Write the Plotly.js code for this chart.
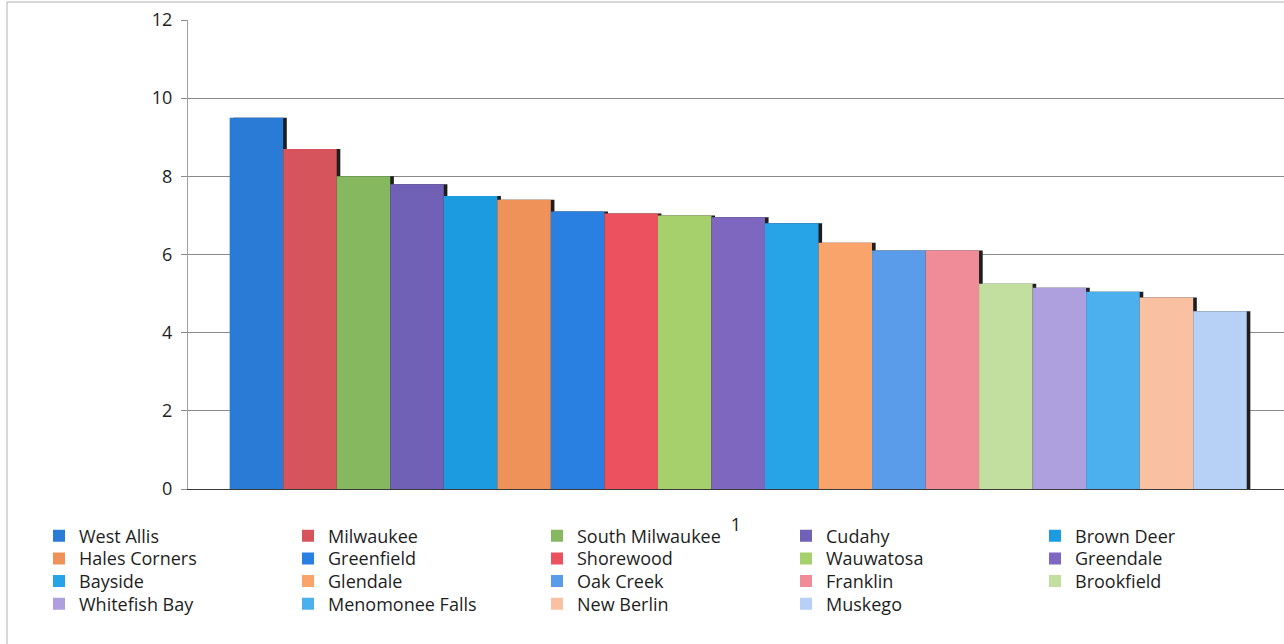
<!DOCTYPE html>
<html>
<head>
<meta charset="utf-8">
<script src="https://cdn.plot.ly/plotly-3.0.1.min.js"></script>
<style>
  html, body { margin: 0; padding: 0; background: #fff; }
  #chart { width: 1284px; height: 644px; }
</style>
</head>
<body>
<div id="chart"></div>
<script>
// ---- data ----
const categories = ['1'];
const cities = [
  'West Allis', 'Milwaukee', 'South Milwaukee', 'Cudahy', 'Brown Deer',
  'Hales Corners', 'Greenfield', 'Shorewood', 'Wauwatosa', 'Greendale',
  'Bayside', 'Glendale', 'Oak Creek', 'Franklin', 'Brookfield',
  'Whitefish Bay', 'Menomonee Falls', 'New Berlin', 'Muskego'
];
const values = [
  9.5, 8.7, 8.0, 7.8, 7.5,
  7.4, 7.1, 7.05, 7.0, 6.95,
  6.8, 6.3, 6.1, 6.1, 5.25,
  5.15, 5.05, 4.9, 4.55
];
const yTicks = [0, 2, 4, 6, 8, 10, 12];

// ---- styling ----
const palette = [
  '#2a7bd6', '#d6545c', '#86b95f', '#7061b6', '#1d9be0',
  '#ee925a', '#2a80e0', '#ec5160', '#a5d06b', '#7d67bf',
  '#27a3e8', '#f8a46a', '#5a9bea', '#ef8c97', '#c3df9f',
  '#ae9fde', '#4cb0ee', '#f9c0a2', '#b6d0f6'
];

const W = 1284, H = 644;
const mL = 188, mR = 0, mT = 20, mB = 155;
const plotW = W - mL - mR, plotH = H - mT - mB;
const py = (pix) => (H - mB - pix) / plotH;   // pixel row -> paper y
const px = (pix) => (pix - mL) / plotW;       // pixel col -> paper x

const n = cities.length;
const perRow = 5;
const groupWidth = 0.928;
const groupShift = 0.002;
const barW = groupWidth / n;
const shadowDx = 0.0033;
const shadowDy = 0.1;

const legendName = (i) => {
  const r = Math.floor(i / perRow);
  return r === 0 ? 'legend' : 'legend' + (r + 1);
};

const shadows = cities.map((c, i) => ({
  type: 'bar',
  x: categories,
  y: [values[i] + shadowDy],
  base: -shadowDy,
  offset: -groupWidth / 2 + groupShift + i * barW + shadowDx,
  width: barW,
  marker: { color: '#1e1e1e', line: { width: 0 } },
  showlegend: false,
  hoverinfo: 'skip'
}));

const bars = cities.map((c, i) => ({
  type: 'bar',
  name: c,
  legend: legendName(i),
  x: categories,
  y: [values[i]],
  offset: -groupWidth / 2 + groupShift + i * barW,
  width: barW,
  marker: { color: palette[i], line: { width: 0 } }
}));

const rowCenters = [536, 558.7, 581.3, 604];
const rowLeft = [42, 42, 42, 39];
const legendBase = {
  orientation: 'h',
  xanchor: 'left',
  yanchor: 'middle',
  entrywidth: 204,
  entrywidthmode: 'pixels',
  itemwidth: 30,
  font: { family: '"Open Sans", sans-serif', size: 18, color: '#1e1e1e' },
  bgcolor: 'rgba(0,0,0,0)',
  borderwidth: 0
};
const legendRow = (r) => Object.assign({}, legendBase, { x: px(rowLeft[r]), y: py(rowCenters[r]) });

const layout = {
  width: W,
  height: H,
  margin: { l: mL, r: mR, t: mT, b: mB },
  paper_bgcolor: '#ffffff',
  plot_bgcolor: '#ffffff',
  barmode: 'overlay',
  font: { family: '"Open Sans", sans-serif', size: 18, color: '#1e1e1e' },
  xaxis: {
    type: 'category',
    range: [-0.5, 0.5],
    showgrid: false,
    showline: true,
    linecolor: '#3a3a3a',
    linewidth: 1,
    ticks: '',
    ticklabelstandoff: 19,
    tickfont: { size: 18, color: '#1e1e1e' },
    fixedrange: true
  },
  yaxis: {
    range: [0, 12],
    tickvals: yTicks,
    ticktext: yTicks.map(String),
    showgrid: true,
    gridcolor: '#8a8a8a',
    gridwidth: 1,
    zeroline: false,
    showline: true,
    linecolor: '#a0a0a0',
    linewidth: 1,
    ticks: 'outside',
    ticklen: 6,
    tickcolor: '#8a8a8a',
    ticklabelstandoff: 5,
    tickfont: { size: 18, color: '#1e1e1e' },
    fixedrange: true
  },
  showlegend: true,
  legend: legendRow(0),
  legend2: legendRow(1),
  legend3: legendRow(2),
  legend4: legendRow(3),
  shapes: [
    { type: 'line', xref: 'paper', yref: 'paper',
      x0: px(7), x1: px(7), y0: py(644), y1: py(2),
      line: { color: '#b0b0b0', width: 1 } },
    { type: 'line', xref: 'paper', yref: 'paper',
      x0: px(7), x1: 1, y0: py(2), y1: py(2),
      line: { color: '#b0b0b0', width: 1 } }
  ]
};

Plotly.newPlot('chart', shadows.concat(bars), layout, { displayModeBar: false, staticPlot: true });
</script>
</body>
</html>
